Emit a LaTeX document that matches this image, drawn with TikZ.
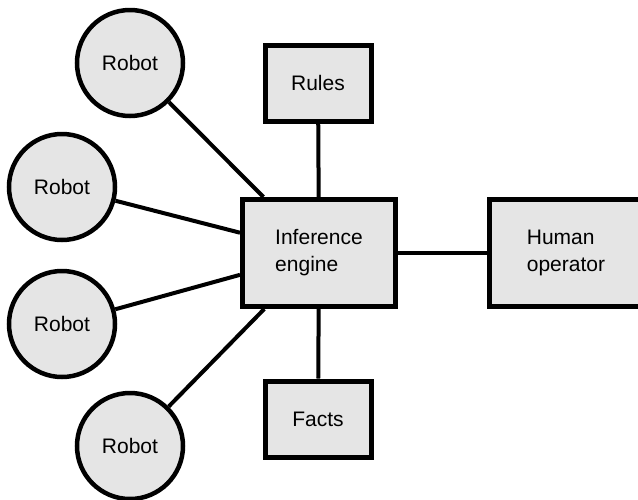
\documentclass[tikz,border=0pt]{standalone}
\usepackage{fontspec}
\setmainfont{Liberation Sans}
\definecolor{boxfill}{HTML}{E5E5E5}
\begin{document}
\begin{tikzpicture}[x=1pt,y=-1pt,
  every node/.style={font=\fontsize{21}{27}\selectfont},
  robotnode/.style={circle,draw=black,line width=4.5pt,fill=boxfill,minimum size=106pt,inner sep=0pt},
  boxnode/.style={rectangle,draw=black,line width=5pt,fill=boxfill,inner sep=0pt,align=left},
  smallbox/.style={boxnode,minimum width=106pt,minimum height=76pt},
  bigbox/.style={boxnode,minimum width=153pt,minimum height=107pt},
  link/.style={line width=4pt}]
\useasboundingbox (0,0) rectangle (638,499);
\node[bigbox] (ie) at (319,253) {Inference\\engine};
\node[smallbox] (rules) at (318,83) {Rules};
\node[smallbox] (facts) at (318,419) {Facts};
\node[bigbox] (human) at (566,253) {Human\\operator};
\node[robotnode] (r1) at (130,63) {Robot};
\node[robotnode] (r2) at (62,187) {Robot};
\node[robotnode] (r3) at (62,324) {Robot};
\node[robotnode] (r4) at (130,446) {Robot};
\draw[link] (r1) -- (ie);
\draw[link] (r2) -- (ie);
\draw[link] (r3) -- (ie);
\draw[link] (r4) -- (ie);
\draw[link] (rules) -- (ie);
\draw[link] (facts) -- (ie);
\draw[link] (ie) -- (human);
\end{tikzpicture}
\end{document}
